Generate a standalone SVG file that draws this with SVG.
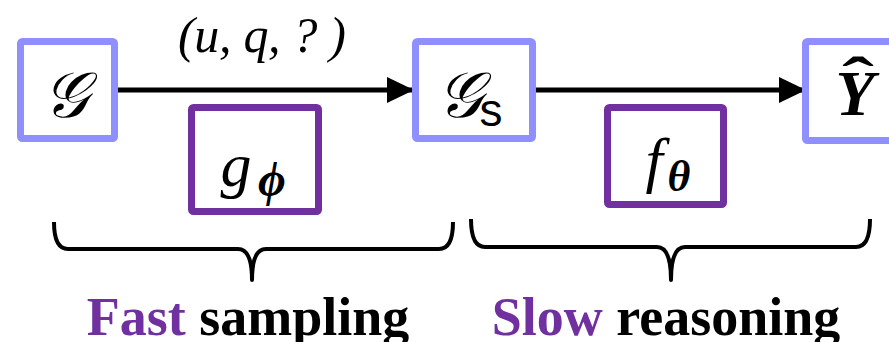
<svg xmlns="http://www.w3.org/2000/svg" width="889" height="342" viewBox="0 0 889 342">
<style>
.out{fill:#fff;stroke:#8F8FFF;stroke-width:7}
.mod{fill:#fff;stroke:#7030A0;stroke-width:7}
.math{font-family:"Liberation Serif","DejaVu Serif",serif;font-style:italic;fill:#000}
.lbl{font-family:"Liberation Serif",serif;font-weight:bold;font-size:54px}
.edge{stroke:#000;stroke-width:5;fill:none}
.brace{stroke:#000;stroke-width:4;fill:none;stroke-linejoin:round}
</style>
<defs>
<marker id="ah" markerUnits="userSpaceOnUse" markerWidth="28" markerHeight="28" refX="27" refY="13" orient="auto">
<path d="M0,0 L27,13 L0,26 Z" fill="#000"/>
</marker>
</defs>
<g id="connectors">
<line class="edge" x1="118" y1="90" x2="414" y2="90" marker-end="url(#ah)"/>
<line class="edge" x1="536" y1="90" x2="806" y2="90" marker-end="url(#ah)"/>
<text class="math" x="178" y="52" font-size="50" textLength="168" lengthAdjust="spacing">(u, q, ? )</text>
</g>
<g id="node-G">
<rect class="out" x="20.5" y="41.5" width="94" height="97" rx="2"/>
<text class="math" x="66" y="117" font-size="64" text-anchor="middle">𝒢</text>
</g>
<g id="node-Gs">
<rect class="out" x="415.5" y="41.5" width="117" height="97" rx="2"/>
<text class="math" x="460" y="117" font-size="64" text-anchor="middle">𝒢</text>
<text x="491" y="126" font-family="Liberation Sans,sans-serif" font-size="46" text-anchor="middle">s</text>
</g>
<g id="node-Y">
<rect class="out" x="805.5" y="41.5" width="110" height="99" rx="2"/>
<text class="math" x="855" y="115" font-size="64" font-weight="bold" text-anchor="middle">Y</text>
<text x="858" y="98" font-family="Liberation Serif,serif" font-size="60" font-weight="bold" text-anchor="middle" transform="translate(858 0) scale(1.6 1) translate(-858 0)">ˆ</text>
</g>
<g id="node-gphi">
<rect class="mod" x="191.5" y="107.5" width="127" height="104" rx="2"/>
<text class="math" x="236" y="186" font-size="62" text-anchor="middle">g</text>
<text class="math" x="272" y="196" font-size="48" font-weight="bold" text-anchor="middle">ϕ</text>
</g>
<g id="node-ftheta">
<rect class="mod" x="607.5" y="107.5" width="116" height="97" rx="2"/>
<text class="math" x="654" y="181" font-size="62" text-anchor="middle">f</text>
<text class="math" x="679" y="191" font-size="44" font-weight="bold" text-anchor="middle">θ</text>
</g>
<g id="braces">
<path class="brace" d="M54,222 Q54,249 68,249 L238,249 Q252,249 252,280 Q252,249 266,249 L439,249 Q453,249 453,222"/>
<path class="brace" d="M471,219 Q471,247 485,247 L657,247 Q671,247 671,280 Q671,247 685,247 L856,247 Q870,247 870,219"/>
</g>
<g id="labels">
<text class="lbl" x="248" y="335" text-anchor="middle"><tspan fill="#7030A0">Fast</tspan> sampling</text>
<text class="lbl" x="666" y="335" text-anchor="middle"><tspan fill="#7030A0">Slow</tspan> reasoning</text>
</g>
</svg>
